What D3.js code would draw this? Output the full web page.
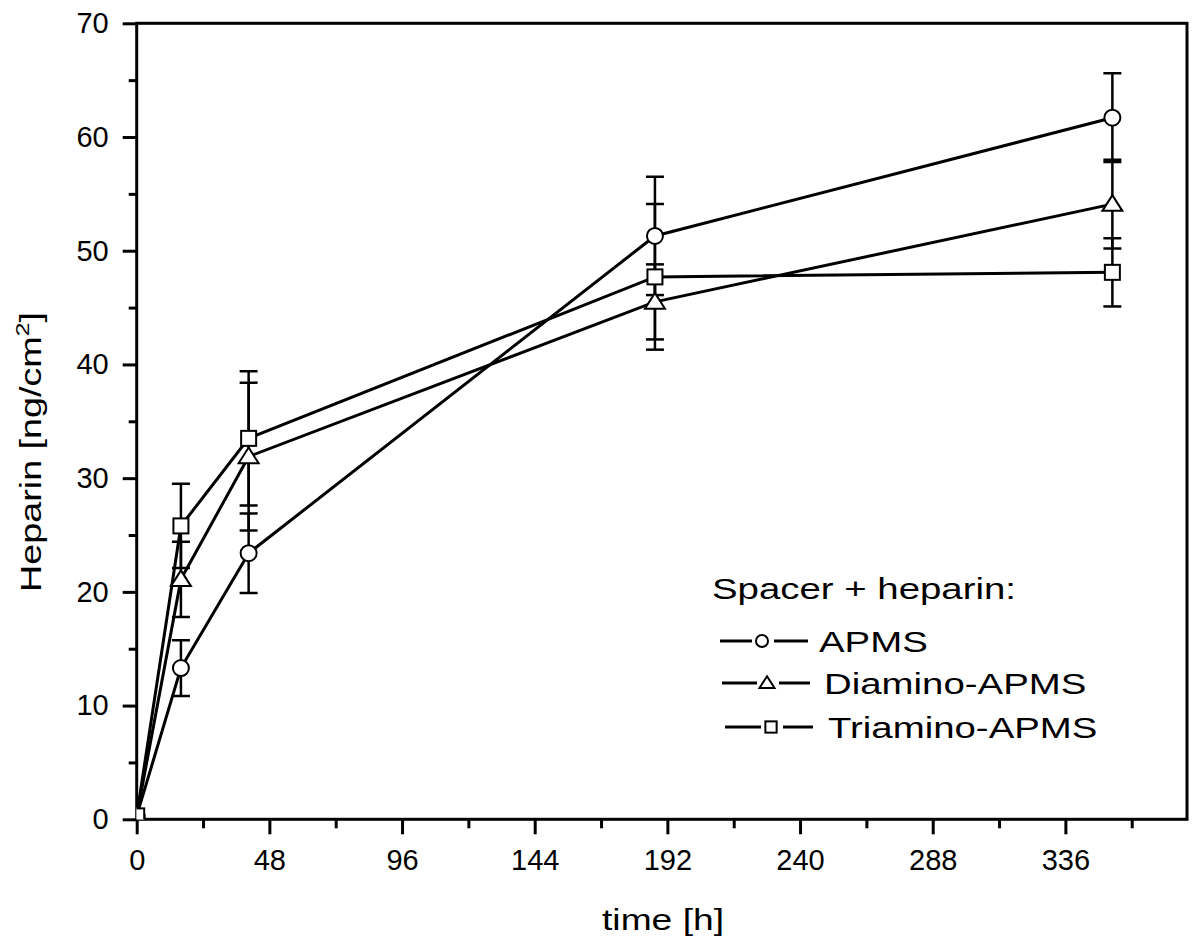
<!DOCTYPE html>
<html>
<head>
<meta charset="utf-8">
<script src="https://cdn.jsdelivr.net/npm/d3@7"></script>
<style>
  body { margin: 0; background: #fff; }
  svg { display: block; font-family: "Liberation Sans", Arial, sans-serif; }
</style>
</head>
<body>
<svg id="chart" width="1200" height="946"></svg>
<script>
// ---- data ----
const times = [0, 16, 40.5, 187.5, 353];
const apms = [0.3, 13.3, 23.4, 51.3, 61.7];
const apmsErr = [0, 2.45, 3.5, 5.2, 3.9];
const diamino = [0.3, 21.1, 31.9, 45.5, 54.1];
const diaminoErr = [0, 3.3, 6.5, 3.3, 3.9];
const triamino = [0.3, 25.8, 33.5, 47.7, 48.1];
const triaminoErr = [0, 3.7, 5.9, 6.4, 3.0];
const xMajorTicks = [0, 48, 96, 144, 192, 240, 288, 336];
const xMinorTicks = [24, 72, 120, 168, 216, 264, 312, 360];
const yMajorTicks = [0, 10, 20, 30, 40, 50, 60, 70];
const yMinorTicks = [5, 15, 25, 35, 45, 55, 65];
const seriesNames = ["APMS", "Diamino-APMS", "Triamino-APMS"];
const seriesSymbols = ["circle", "triangle", "square"];

const series = [
  { name: seriesNames[0], sym: seriesSymbols[0], vals: apms, err: apmsErr },
  { name: seriesNames[1], sym: seriesSymbols[1], vals: diamino, err: diaminoErr },
  { name: seriesNames[2], sym: seriesSymbols[2], vals: triamino, err: triaminoErr }
];

// ---- layout ----
const L = 136.7, R = 1187, T = 23.3, B = 819.3;
const x = d3.scaleLinear().domain([0, 380]).range([L, R]);
const y = d3.scaleLinear().domain([0, 70]).range([B, T]);

const svg = d3.select("#chart");

svg.append("defs").append("clipPath").attr("id", "clip")
  .append("rect").attr("x", L).attr("y", T).attr("width", R - L).attr("height", B - T);

// axes
const fs = 29;
const xAxis = svg.append("g").attr("transform", `translate(0,${B})`)
  .call(d3.axisBottom(x).tickValues(xMajorTicks).tickSize(15).tickPadding(15).tickFormat(d3.format("d")));
const xMinor = svg.append("g").attr("transform", `translate(0,${B})`)
  .call(d3.axisBottom(x).tickValues(xMinorTicks).tickSize(9).tickFormat(""));
const yAxis = svg.append("g").attr("transform", `translate(${L},0)`)
  .call(d3.axisLeft(y).tickValues(yMajorTicks).tickSize(14).tickPadding(14).tickFormat(d3.format("d")));
const yMinor = svg.append("g").attr("transform", `translate(${L},0)`)
  .call(d3.axisLeft(y).tickValues(yMinorTicks).tickSize(8).tickFormat(""));

[xAxis, xMinor, yAxis, yMinor].forEach(g => {
  g.select(".domain").remove();
  g.selectAll("line").attr("stroke", "#000").attr("stroke-width", 3);
  g.selectAll("text").attr("font-size", fs).attr("fill", "#000")
    .attr("font-family", "Liberation Sans, Arial, sans-serif");
});

// frame
svg.append("rect").attr("x", L).attr("y", T).attr("width", R - L).attr("height", B - T)
  .attr("fill", "none").attr("stroke", "#000").attr("stroke-width", 3);

// axis titles (the reference lettering is wider than Liberation Sans, so stretch along the text)
svg.append("text").attr("transform", "translate(663,930) scale(1.24,1)").attr("text-anchor", "middle")
  .attr("font-size", 30).text("time [h]");
const yt = svg.append("text").attr("transform", "translate(41,452) rotate(-90) scale(1.3,1)")
  .attr("text-anchor", "middle").attr("font-size", 29);
yt.append("tspan").text("Heparin [ng/cm");
yt.append("tspan").attr("dy", -12).attr("font-size", 19).text("2");
yt.append("tspan").attr("dy", 12).text("]");

// plot layer
const plot = svg.append("g").attr("clip-path", "url(#clip)");

const line = d3.line().x((d, i) => x(times[i])).y(d => y(d));

// error bars
series.forEach(s => {
  const g = plot.append("g");
  s.vals.forEach((v, i) => {
    const e = s.err[i];
    if (!e) return;
    const cx = x(times[i]);
    g.append("line").attr("x1", cx).attr("x2", cx).attr("y1", y(v - e)).attr("y2", y(v + e))
      .attr("stroke", "#000").attr("stroke-width", 2.5);
    [v - e, v + e].forEach(yy => {
      g.append("line").attr("x1", cx - 9).attr("x2", cx + 9).attr("y1", y(yy)).attr("y2", y(yy))
        .attr("stroke", "#000").attr("stroke-width", 2.5);
    });
  });
});

// lines
series.forEach(s => {
  plot.append("path").datum(s.vals).attr("d", line)
    .attr("fill", "none").attr("stroke", "#000").attr("stroke-width", 3);
});

// markers
function drawSymbol(g, sym, cx, cy, scale) {
  const k = scale || 1;
  if (sym === "circle") {
    g.append("circle").attr("cx", cx).attr("cy", cy).attr("r", 8 * k)
      .attr("fill", "#fff").attr("stroke", "#000").attr("stroke-width", 2);
  } else if (sym === "triangle") {
    const w = 10 * k, h = 15 * k;
    g.append("path").attr("d", `M${cx},${cy - h * 0.6}L${cx + w},${cy + h * 0.45}L${cx - w},${cy + h * 0.45}Z`)
      .attr("fill", "#fff").attr("stroke", "#000").attr("stroke-width", 2);
  } else {
    const a = 7.5 * k;
    g.append("rect").attr("x", cx - a).attr("y", cy - a).attr("width", 2 * a).attr("height", 2 * a)
      .attr("fill", "#fff").attr("stroke", "#000").attr("stroke-width", 2);
  }
}
series.forEach(s => {
  const g = plot.append("g");
  s.vals.forEach((v, i) => drawSymbol(g, s.sym, x(times[i]), y(v), 1));
});

// legend
const sx = 1.28;
svg.append("text").attr("transform", `translate(712,599) scale(${sx},1)`).attr("font-size", 30).text("Spacer + heparin:");
const legendRows = [
  { y: 641, x0: 720, sx: 762, tx: 819 },
  { y: 683, x0: 722, sx: 767, tx: 824 },
  { y: 727, x0: 725, sx: 771, tx: 828 }
];
series.forEach((s, i) => {
  const r = legendRows[i];
  const g = svg.append("g");
  g.append("line").attr("x1", r.x0).attr("x2", r.sx - 10).attr("y1", r.y).attr("y2", r.y)
    .attr("stroke", "#000").attr("stroke-width", 3);
  g.append("line").attr("x1", r.sx + 12).attr("x2", r.x0 + 88).attr("y1", r.y).attr("y2", r.y)
    .attr("stroke", "#000").attr("stroke-width", 3);
  drawSymbol(g, s.sym, r.sx, r.y, 0.75);
  g.append("text").attr("transform", `translate(${r.tx},${r.y + 11}) scale(${sx},1)`)
    .attr("font-size", 30).text(s.name);
});
</script>
</body>
</html>
